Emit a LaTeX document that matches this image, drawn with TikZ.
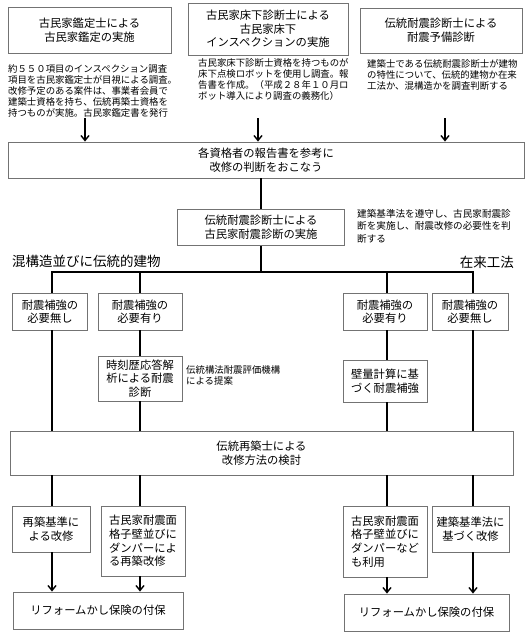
\documentclass[tikz,border=0pt]{standalone}
\usepackage{fontspec}
\setmainfont{Noto Sans CJK JP}
\usetikzlibrary{arrows.meta}
\begin{document}
\begin{tikzpicture}[x=1pt,y=-1pt,
  box/.style={draw=black!55,line width=0.8pt,fill=white,inner sep=1pt,align=center,
    font=\fontsize{11.3}{13.6}\selectfont},
  lbox/.style={box,align=left},
  note/.style={anchor=north west,inner sep=0pt,align=left,font=\fontsize{9.4}{11}\selectfont},
  conn/.style={line width=1.6pt},
  arr/.style={line width=1.6pt,-{Straight Barb[length=5pt,width=8pt,line width=1.4pt]}},
  grp/.style={inner sep=0pt,font=\fontsize{13.5}{15}\selectfont}
]
\useasboundingbox (0,0) rectangle (532,640);
\fill[white] (0,0) rectangle (532,640);

% top row
\node[box,minimum width=163pt,minimum height=46pt] (t1) at (89.5,30) {古民家鑑定士による\\古民家鑑定の実施};
\node[box,minimum width=160pt,minimum height=52pt] (t2) at (268,29) {古民家床下診断士による\\古民家床下\\インスペクションの実施};
\node[box,minimum width=162pt,minimum height=45pt] (t3) at (441,30.5) {伝統耐震診断士による\\耐震予備診断};

\node[note] (n1) at (8,64) {約５５０項目のインスペクション調査\\項目を古民家鑑定士が目視による調査。\\改修予定のある案件は、事業者会員で\\建築士資格を持ち、伝統再築士資格を\\持つものが実施。古民家鑑定書を発行};
\node[note] (n2) at (198,58) {古民家床下診断士資格を持つものが\\床下点検ロボットを使用し調査。報\\告書を作成。（平成２８年１０月ロ\\ボット導入により調査の義務化）};
\node[note] (n3) at (367,59) {建築士である伝統耐震診断士が建物\\の特性について、伝統的建物か在来\\工法か、混構造かを調査判断する};

% main box
\node[box,minimum width=516pt,minimum height=36pt] (main) at (266,160) {各資格者の報告書を参考に\\改修の判断をおこなう};

\coordinate (a1) at (85,118);
\coordinate (a2) at (258,118);
\coordinate (a3) at (445,118);
\draw[arr] (a1) -- (a1 |- main.north);
\draw[arr] (a2) -- (a2 |- main.north);
\draw[arr] (a3) -- (a3 |- main.north);

% middle box
\node[box,minimum width=167pt,minimum height=36pt] (mid) at (261,227.5) {伝統耐震診断士による\\古民家耐震診断の実施};
\node[note,font=\fontsize{9.6}{12.4}\selectfont] (n4) at (357,209) {建築基準法を遵守し、古民家耐震診\\断を実施し、耐震改修の必要性を判\\断する};
\draw[conn] (mid.north |- main.south) -- (mid.north);

% group labels
\node[grp,anchor=west] (g1) at (12,261) {混構造並びに伝統的建物};
\node[grp,anchor=east] (g2) at (514,262) {在来工法};

% junction
\coordinate (jl) at (52,272);
\coordinate (jb) at (140,272);
\coordinate (jc) at (387,272);
\coordinate (jd) at (473,272);
\draw[conn] (mid.south) -- (mid.south |- jl);
\draw[conn,line cap=rect] (jl) -- (jd);

% second row
\node[box,minimum width=75pt,minimum height=37pt] (A) at (50,311.5) {耐震補強の\\必要無し};
\node[box,minimum width=84pt,minimum height=37pt] (B) at (140,311.5) {耐震補強の\\必要有り};
\node[box,minimum width=84pt,minimum height=37pt] (C) at (385,311.5) {耐震補強の\\必要有り};
\node[box,minimum width=76pt,minimum height=37pt] (D) at (470,311.5) {耐震補強の\\必要無し};

\node[box,minimum width=84pt,minimum height=45pt] (B2) at (140,378.5) {時刻歴応答解\\析による耐震\\診断};
\node[note] (n5) at (186,365) {伝統構法耐震評価機構\\による提案};
\node[box,minimum width=84pt,minimum height=42pt] (C2) at (385,381) {壁量計算に基\\づく耐震補強};

\node[box,minimum width=503pt,minimum height=44pt] (big) at (261.5,453) {伝統再築士による\\改修方法の検討};

\draw[conn] (jl) -- (jl |- A.north);
\draw[conn] (jl |- A.south) -- (jl |- big.north);
\draw[conn] (jb) -- (jb |- B.north);
\draw[conn] (jb |- B.south) -- (jb |- B2.north);
\draw[conn] (jb |- B2.south) -- (jb |- big.north);
\draw[conn] (jc) -- (jc |- C.north);
\draw[conn] (jc |- C.south) -- (jc |- C2.north);
\draw[conn] (jc |- C2.south) -- (jc |- big.north);
\draw[conn] (jd) -- (jd |- D.north);
\draw[conn] (jd |- D.south) -- (jd |- big.north);

% bottom row
\node[box,minimum width=78pt,minimum height=46pt] (E) at (51,529) {再築基準に\\よる改修};
\node[lbox,minimum width=84pt,minimum height=70pt] (F) at (143,541) {古民家耐震面\\格子壁並びに\\ダンパーによ\\る再築改修};
\node[lbox,minimum width=84pt,minimum height=71pt] (G) at (385,541.5) {古民家耐震面\\格子壁並びに\\ダンパーなど\\も利用};
\node[box,minimum width=77pt,minimum height=46pt] (H) at (470.5,529) {建築基準法に\\基づく改修};

\node[box,minimum width=170pt,minimum height=37pt] (R1) at (98,610.5) {リフォームかし保険の付保};
\node[box,minimum width=165pt,minimum height=37pt] (R2) at (426.5,612.5) {リフォームかし保険の付保};

\draw[conn] (jl |- big.south) -- (jl |- E.north);
\draw[conn] (jb |- big.south) -- (jb |- F.north);
\draw[conn] (jc |- big.south) -- (jc |- G.north);
\draw[conn] (jd |- big.south) -- (jd |- H.north);
\draw[arr] (jl |- E.south) -- (jl |- R1.north);
\draw[arr] (jb |- F.south) -- (jb |- R1.north);
\draw[arr] (jc |- G.south) -- (jc |- R2.north);
\draw[arr] (jd |- H.south) -- (jd |- R2.north);
\end{tikzpicture}
\end{document}
